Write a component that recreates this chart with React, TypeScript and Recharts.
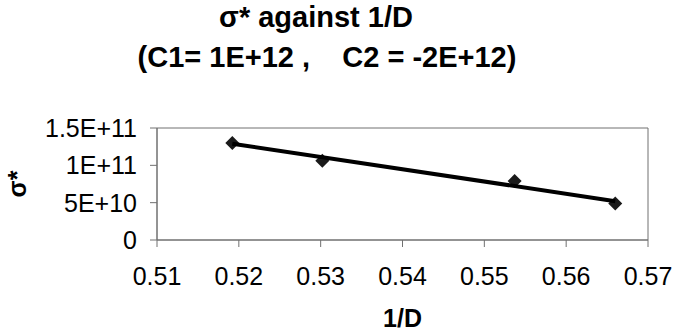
import { ScatterChart, Scatter, XAxis, YAxis, ReferenceArea, Label } from 'recharts';

// Measured points (1/D, sigma*)
const invD = [0.5192, 0.5302, 0.5537, 0.566];
const sigma = [1.3e11, 1.06e11, 7.9e10, 4.9e10];

// Linear trendline as drawn (end points)
const trendX = [0.5192, 0.566];
const trendY = [1.29e11, 5.2e10];

const xTicks = [0.51, 0.52, 0.53, 0.54, 0.55, 0.56, 0.57];
const yTicks = [0, 5e10, 1e11, 1.5e11];
const yTickLabels = ['0', '5E+10', '1E+11', '1.5E+11'];

const points = invD.map((x, i) => ({ x, y: sigma[i] }));
const trend = trendX.map((x, i) => ({ x, y: trendY[i] }));

const FONT = '"Liberation Sans", Arial, sans-serif';
const GREY = '#707070';

const Diamond = (props: any) => {
    const { cx, cy } = props;
    const r = 7;
    return (
        <polygon
            points={`${cx},${cy - r} ${cx + r},${cy} ${cx},${cy + r} ${cx - r},${cy}`}
            fill="#1a1a1a"
        />
    );
};

const NoDot = () => <g />;

const YTitle = (props: any) => {
    const { viewBox } = props;
    const cy = viewBox.y + viewBox.height / 2;
    return (
        <text
            x={17}
            y={cy}
            transform={`rotate(-90, 17, ${cy})`}
            textAnchor="middle"
            dominantBaseline="central"
            fontFamily={FONT}
            fontWeight="bold"
            fontSize={25}
            fill="#000"
        >
            σ*
        </text>
    );
};

export default function App() {
    return (
        <div style={{ position: 'fixed', left: 0, top: 0, width: 675, height: 332, background: '#fff' }}>
            <ScatterChart width={675} height={332} margin={{ top: 128, right: 27, bottom: 0, left: 0 }}>
                <XAxis
                    type="number"
                    dataKey="x"
                    domain={[0.51, 0.57]}
                    ticks={xTicks}
                    interval={0}
                    allowDataOverflow
                    height={92}
                    tickSize={7}
                    tickMargin={20}
                    tickFormatter={(v: number) => v.toFixed(2)}
                    stroke={GREY}
                    tick={{ fill: '#000', fontSize: 25, fontFamily: FONT }}
                >
                    <Label
                        value="1/D"
                        position="insideBottom"
                        offset={5}
                        style={{ fontFamily: FONT, fontWeight: 'bold', fontSize: 25, fill: '#000' }}
                    />
                </XAxis>
                <YAxis
                    type="number"
                    dataKey="y"
                    domain={[0, 1.5e11]}
                    ticks={yTicks}
                    interval={0}
                    allowDataOverflow
                    width={157}
                    tickSize={7}
                    tickMargin={13}
                    tickFormatter={(v: number) => yTickLabels[yTicks.indexOf(v)] ?? String(v)}
                    stroke={GREY}
                    tick={{ fill: '#000', fontSize: 25, fontFamily: FONT }}
                >
                    <Label content={YTitle} />
                </YAxis>
                <ReferenceArea
                    x1={0.51}
                    x2={0.57}
                    y1={0}
                    y2={1.5e11}
                    fill="none"
                    stroke={GREY}
                    strokeWidth={1}
                />
                <Scatter
                    data={points}
                    shape={Diamond}
                    isAnimationActive={false}
                />
                <Scatter
                    data={trend}
                    line={{ stroke: '#000', strokeWidth: 4 }}
                    shape={NoDot}
                    isAnimationActive={false}
                />
            </ScatterChart>
            <svg
                width={675}
                height={100}
                style={{ position: 'absolute', left: 0, top: 0, pointerEvents: 'none' }}
            >
                <text x={316} y={27} textAnchor="middle" fontFamily={FONT} fontWeight="bold" fontSize={29} fill="#000">
                    σ* against 1/D
                </text>
                <text
                    x={327}
                    y={67}
                    textAnchor="middle"
                    fontFamily={FONT}
                    fontWeight="bold"
                    fontSize={29}
                    fill="#000"
                    style={{ whiteSpace: 'pre' }}
                >
                    {'(C1= 1E+12 ,    C2 = -2E+12)'}
                </text>
            </svg>
        </div>
    );
}
